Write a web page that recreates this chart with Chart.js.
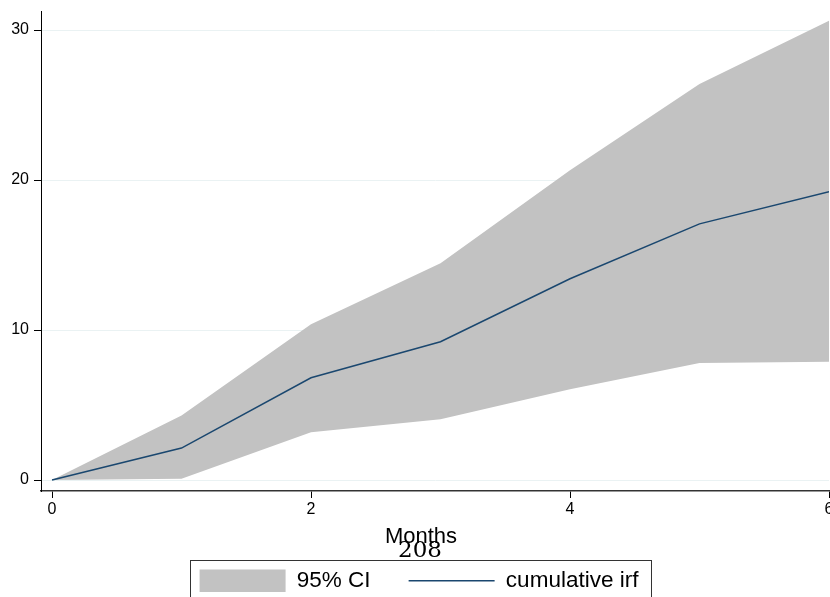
<!DOCTYPE html>
<html lang="en">
<head>
    <meta charset="UTF-8">
    <title>Cumulative IRF</title>
    <script src="https://cdn.jsdelivr.net/npm/chart.js"></script>
    <style>
        body { margin: 0; background: white; overflow: hidden; }
        .wrap { position: relative; width: 830px; height: 597px; overflow: hidden; }
        #irfChart { position: absolute; left: 0; top: 0; }
        .axis-title { position: absolute; left: 321px; top: 525px; width: 200px; text-align: center;
                      font-family: 'Liberation Sans', Arial, sans-serif; font-size: 22px; line-height: 22px; color: #000; }
        .page-no { position: absolute; left: 370px; top: 538px; width: 100px; text-align: center;
                   font-family: 'DejaVu Serif', serif; font-size: 23px; line-height: 23px; color: #000; }
    </style>
</head>
<body>
<div class="wrap">
    <canvas id="irfChart" width="830" height="602"></canvas>
    <div class="axis-title">Months</div>
    <div class="page-no">208</div>
</div>

<script>
    // values
    const months = [0, 1, 2, 3, 4, 5, 6];
    const irf = [0, 2.13, 6.82, 9.22, 13.42, 17.08, 19.22];
    const ciUpper = [0, 4.3, 10.38, 14.45, 20.65, 26.4, 30.62];
    const ciLower = [0, 0.08, 3.18, 4.05, 6.05, 7.8, 7.88];
    const xTicks = [0, 2, 4, 6];
    const yTicks = [0, 10, 20, 30];

    const toPoints = vals => months.map((m, i) => ({ x: m, y: vals[i] }));

    Chart.defaults.font.family = "'Liberation Sans', Arial, sans-serif";
    Chart.defaults.color = '#000';

    // frame round the legend, like the Stata legend box
    const legendBox = {
        id: 'legendBox',
        afterDraw(chart) {
            const boxes = chart.legend.legendHitBoxes;
            if (!boxes || !boxes.length) return;
            const first = boxes[0], last = boxes[boxes.length - 1];
            const ctx = chart.ctx;
            ctx.save();
            ctx.strokeStyle = '#333';
            ctx.lineWidth = 1;
            const left = Math.round(first.left) - 9.5;
            const right = Math.round(last.left + last.width) + 13.5;
            const top = Math.round(first.top) - 9.5;
            ctx.strokeRect(left, top, right - left, 60);
            ctx.restore();
        }
    };

    new Chart(document.getElementById('irfChart'), {
        type: 'line',
        data: {
            datasets: [
                {
                    label: '95% CI',
                    data: toPoints(ciUpper),
                    borderWidth: 0,
                    backgroundColor: '#c2c2c2',
                    borderColor: '#c2c2c2',
                    fill: '+1',
                    pointRadius: 0,
                    pointStyle: 'rect'
                },
                {
                    label: 'lower',
                    data: toPoints(ciLower),
                    borderWidth: 0,
                    backgroundColor: '#c2c2c2',
                    borderColor: '#c2c2c2',
                    fill: false,
                    pointRadius: 0
                },
                {
                    label: 'cumulative irf',
                    data: toPoints(irf),
                    borderColor: '#1a476f',
                    backgroundColor: '#1a476f',
                    borderWidth: 1.5,
                    fill: false,
                    pointRadius: 0,
                    pointStyle: 'line',
                    tension: 0
                }
            ]
        },
        options: {
            responsive: false,
            animation: false,
            devicePixelRatio: 1,
            layout: { padding: { top: 11, left: 9, right: 1, bottom: 0 } },
            scales: {
                x: {
                    type: 'linear',
                    min: -0.085,
                    max: 6,
                    afterBuildTicks: s => { s.ticks = xTicks.map(v => ({ value: v })); },
                    afterFit: s => { s.height = 40.5; s.paddingLeft = 0; s.paddingRight = 0; },
                    grid: { drawOnChartArea: false, tickLength: 7, tickColor: '#000', tickWidth: 1 },
                    border: { display: true, color: '#333', width: 1.5 },
                    ticks: { font: { size: 16 }, padding: 2, maxRotation: 0 }
                },
                y: {
                    min: -0.73,
                    max: 31.27,
                    afterBuildTicks: s => { s.ticks = yTicks.map(v => ({ value: v })); },
                    afterFit: s => { s.width = 32; s.paddingTop = 0; s.paddingBottom = 0; },
                    grid: { color: '#eaf2f3', tickLength: 7, tickColor: '#000', lineWidth: 1 },
                    border: { display: true, color: '#000', width: 1 },
                    ticks: { font: { size: 16 }, padding: 5 }
                }
            },
            plugins: {
                filler: { drawTime: 'beforeDatasetsDraw' },
                tooltip: { enabled: false },
                legend: {
                    position: 'bottom',
                    labels: {
                        usePointStyle: true,
                        pointStyleWidth: 86,
                        boxHeight: 24,
                        padding: 38,
                        color: '#000',
                        font: { size: 22.5 },
                        filter: item => item.datasetIndex !== 1
                    }
                }
            }
        },
        plugins: [legendBox]
    });
</script>
</body>
</html>
